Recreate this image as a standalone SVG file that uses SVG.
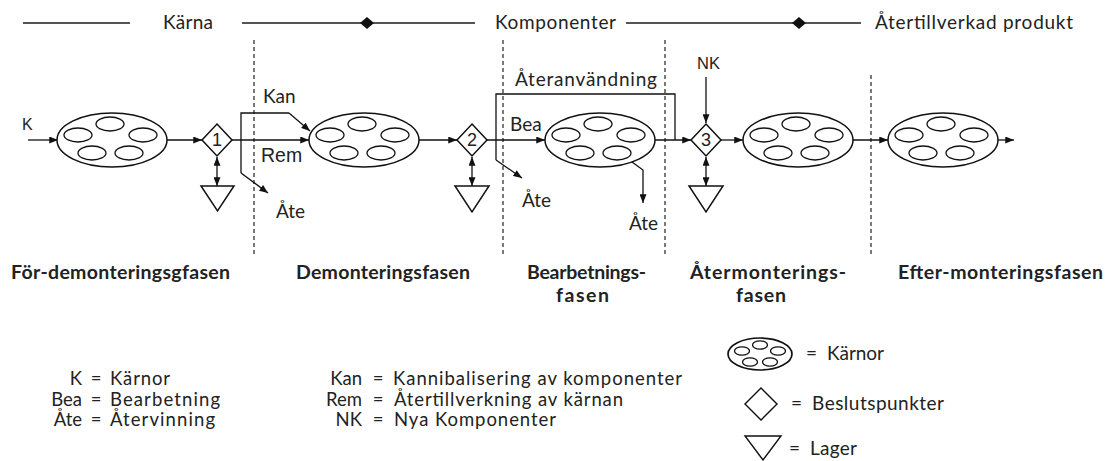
<svg xmlns="http://www.w3.org/2000/svg" width="1110" height="461" viewBox="0 0 1110 461">
  <defs>
    <style>
      .ln{fill:none;stroke:#111;stroke-width:1.3}
      .ar{marker-end:url(#ah)}
      .da{marker-start:url(#ah);marker-end:url(#ah)}
      .dash{fill:none;stroke:#222;stroke-width:1.2;stroke-dasharray:4 3}
      .sh{fill:#fff;stroke:#111;stroke-width:1.5}
      .in{fill:none;stroke:#111;stroke-width:1.3}
      .t{font-family:Lato,"Open Sans",sans-serif;font-size:19px;fill:#222}
      .s{font-family:Lato,"Open Sans",sans-serif;font-size:18.5px;fill:#222}
      .a{font-family:"Liberation Sans",Arial,sans-serif;fill:#222}
      .b{font-family:Lato,"Open Sans",sans-serif;font-weight:bold;font-size:19.5px;fill:#222}
      .key{fill:none;stroke:#555;stroke-width:1.8}
    </style>
    <marker id="ah" viewBox="0 0 10 8" refX="10" refY="4" markerWidth="9" markerHeight="7" markerUnits="userSpaceOnUse" orient="auto-start-reverse">
      <path d="M0,0 L10,4 L0,8 z" fill="#111"/>
    </marker>
    <!-- core: outer ellipse holding five parts -->
    <g id="core">
      <ellipse cx="0" cy="0" rx="55" ry="27" class="sh"/>
      <ellipse cx="-2" cy="-16" rx="14" ry="7" class="in"/>
      <ellipse cx="-34" cy="-5" rx="14" ry="7" class="in"/>
      <ellipse cx="31" cy="-5" rx="14" ry="7" class="in"/>
      <ellipse cx="-20" cy="13" rx="14" ry="7" class="in"/>
      <ellipse cx="17" cy="13" rx="14" ry="7" class="in"/>
    </g>
  </defs>

  <rect width="1110" height="461" fill="#fff"/>

  <!-- top key: Kärna / Komponenter / Återtillverkad produkt -->
  <g id="key-top">
    <line x1="23" y1="23" x2="130" y2="23" class="key" stroke="#777"/>
    <text x="163" y="29" class="t" textLength="50">Kärna</text>
    <line x1="242" y1="23" x2="475" y2="23" class="key"/>
    <polygon points="367,17 374,23 367,29 360,23" fill="#111"/>
    <text x="495" y="29" class="t" textLength="121">Komponenter</text>
    <line x1="626" y1="23" x2="861" y2="23" class="key"/>
    <polygon points="799,17 806,23 799,29 792,23" fill="#111"/>
    <text x="875" y="29" class="t" textLength="198">Återtillverkad produkt</text>
  </g>

  <!-- phase separators -->
  <g id="separators">
    <line x1="254" y1="40" x2="254" y2="256" class="dash"/>
    <line x1="503" y1="40" x2="503" y2="256" class="dash"/>
    <line x1="665" y1="40" x2="665" y2="256" class="dash"/>
    <line x1="871" y1="75" x2="871" y2="256" class="dash"/>
  </g>

  <!-- connectors -->
  <g id="connectors">
    <line x1="28" y1="140" x2="58" y2="140" class="ln ar"/>
    <line x1="167" y1="140" x2="202" y2="140" class="ln ar"/>
    <line x1="232" y1="140" x2="309" y2="140" class="ln ar"/>
    <line x1="418" y1="140" x2="457" y2="140" class="ln ar"/>
    <line x1="487" y1="140" x2="545" y2="140" class="ln ar"/>
    <line x1="655" y1="140" x2="691" y2="140" class="ln ar"/>
    <line x1="721" y1="140" x2="743" y2="140" class="ln ar"/>
    <line x1="853" y1="140" x2="888" y2="140" class="ln ar"/>
    <line x1="998" y1="140" x2="1014" y2="140" class="ln ar"/>
    <!-- stock links -->
    <line x1="217" y1="157" x2="217" y2="186" class="ln da"/>
    <line x1="472" y1="157" x2="472" y2="186" class="ln da"/>
    <line x1="706" y1="157" x2="706" y2="186" class="ln da"/>
    <!-- Kan / Åte split after point 1 -->
    <polyline points="289,113 241,113 241,173" class="ln"/>
    <line x1="289" y1="113" x2="310" y2="131" class="ln ar"/>
    <line x1="241" y1="173" x2="268" y2="193" class="ln ar"/>
    <!-- Återanvändning loop and Åte after point 2 -->
    <polyline points="675,140 675,94 496,94 496,160" class="ln"/>
    <line x1="496" y1="160" x2="522" y2="178" class="ln ar"/>
    <!-- Åte from processing -->
    <polyline points="632,162 643,170 643,203" class="ln ar"/>
    <!-- NK input -->
    <line x1="706" y1="77" x2="706" y2="123" class="ln ar"/>
  </g>

  <!-- cores -->
  <g id="core-1"><use href="#core" x="112" y="140"/></g>
  <g id="core-2"><use href="#core" x="364" y="140"/></g>
  <g id="core-3"><use href="#core" x="600" y="140"/></g>
  <g id="core-4"><use href="#core" x="798" y="140"/></g>
  <g id="core-5"><use href="#core" x="943" y="140"/></g>

  <!-- decision points -->
  <g id="decision-1">
    <polygon points="217,124 232,140 217,156 202,140" class="sh"/>
    <text x="217" y="146" class="a" font-size="18" text-anchor="middle">1</text>
  </g>
  <g id="decision-2">
    <polygon points="472,124 487,140 472,156 457,140" class="sh"/>
    <text x="472" y="146" class="a" font-size="18" text-anchor="middle">2</text>
  </g>
  <g id="decision-3">
    <polygon points="706,124 721,140 706,156 691,140" class="sh"/>
    <text x="706" y="146" class="a" font-size="18" text-anchor="middle">3</text>
  </g>

  <!-- stocks -->
  <g id="stock-1"><polygon points="201,186 234,186 217.5,211" class="sh"/></g>
  <g id="stock-2"><polygon points="455,186 489,186 472,212" class="sh"/></g>
  <g id="stock-3"><polygon points="689,186 723,186 706,212" class="sh"/></g>

  <!-- flow labels -->
  <g id="flow-labels">
    <text x="22" y="130" class="a" font-size="16">K</text>
    <text x="263" y="103" class="t">Kan</text>
    <text x="261" y="162" class="a" font-size="19.5">Rem</text>
    <text x="276" y="218" class="t">Åte</text>
    <text x="515" y="86" class="t" textLength="142">Återanvändning</text>
    <text x="510" y="131" class="t">Bea</text>
    <text x="522" y="207" class="t">Åte</text>
    <text x="629" y="230" class="t">Åte</text>
    <text x="697" y="69" class="a" font-size="16.5">NK</text>
  </g>

  <!-- phase names -->
  <g id="phase-names">
    <text x="11" y="279" class="b" textLength="219">För-demonteringsgfasen</text>
    <text x="296" y="279" class="b" textLength="174">Demonteringsfasen</text>
    <text x="527" y="279" class="b" textLength="119">Bearbetnings-</text>
    <text x="556" y="302" class="b" textLength="53">fasen</text>
    <text x="690" y="279" class="b" textLength="156">Återmonterings-</text>
    <text x="736" y="302" class="b" textLength="50">fasen</text>
    <text x="898" y="279" class="b" textLength="205">Efter-monteringsfasen</text>
  </g>

  <!-- abbreviation key -->
  <g id="key-abbrev">
    <text class="s" y="385"><tspan x="82" text-anchor="end">K</tspan><tspan x="96" text-anchor="middle">=</tspan><tspan x="110" textLength="60">Kärnor</tspan></text>
    <text class="s" y="405.5"><tspan x="82" text-anchor="end">Bea</tspan><tspan x="96" text-anchor="middle">=</tspan><tspan x="110" textLength="110">Bearbetning</tspan></text>
    <text class="s" y="426"><tspan x="82" text-anchor="end">Åte</tspan><tspan x="96" text-anchor="middle">=</tspan><tspan x="110" textLength="105">Återvinning</tspan></text>

    <text class="s" y="385"><tspan x="362" text-anchor="end">Kan</tspan><tspan x="378" text-anchor="middle">=</tspan><tspan x="393" textLength="289">Kannibalisering av komponenter</tspan></text>
    <text class="s" y="405.5"><tspan x="362" text-anchor="end">Rem</tspan><tspan x="378" text-anchor="middle">=</tspan><tspan x="394" textLength="229">Återtillverkning av kärnan</tspan></text>
    <text class="s" y="426"><tspan x="362" text-anchor="end">NK</tspan><tspan x="378" text-anchor="middle">=</tspan><tspan x="394" textLength="162">Nya Komponenter</tspan></text>
  </g>

  <!-- symbol key -->
  <g id="key-symbols">
    <ellipse cx="760" cy="354" rx="32" ry="16" fill="#fff" stroke="#111" stroke-width="1.7"/>
    <ellipse cx="760" cy="345" rx="7.5" ry="4.2" class="in"/>
    <ellipse cx="742" cy="351" rx="7.5" ry="4.2" class="in"/>
    <ellipse cx="778" cy="351" rx="7.5" ry="4.2" class="in"/>
    <ellipse cx="750" cy="362" rx="7.5" ry="4.2" class="in"/>
    <ellipse cx="770" cy="362" rx="7.5" ry="4.2" class="in"/>
    <text class="t" y="360"><tspan x="806">=</tspan><tspan x="827" textLength="57">Kärnor</tspan></text>

    <polygon points="761,388 777,404 761,420 745,404" fill="#fff" stroke="#111" stroke-width="1.4"/>
    <text class="t" y="410"><tspan x="791">=</tspan><tspan x="812" textLength="132">Beslutspunkter</tspan></text>

    <polygon points="745,436 781,436 763,460" fill="#fff" stroke="#111" stroke-width="1.4"/>
    <text class="t" y="455"><tspan x="789">=</tspan><tspan x="810" textLength="47">Lager</tspan></text>
  </g>
</svg>
